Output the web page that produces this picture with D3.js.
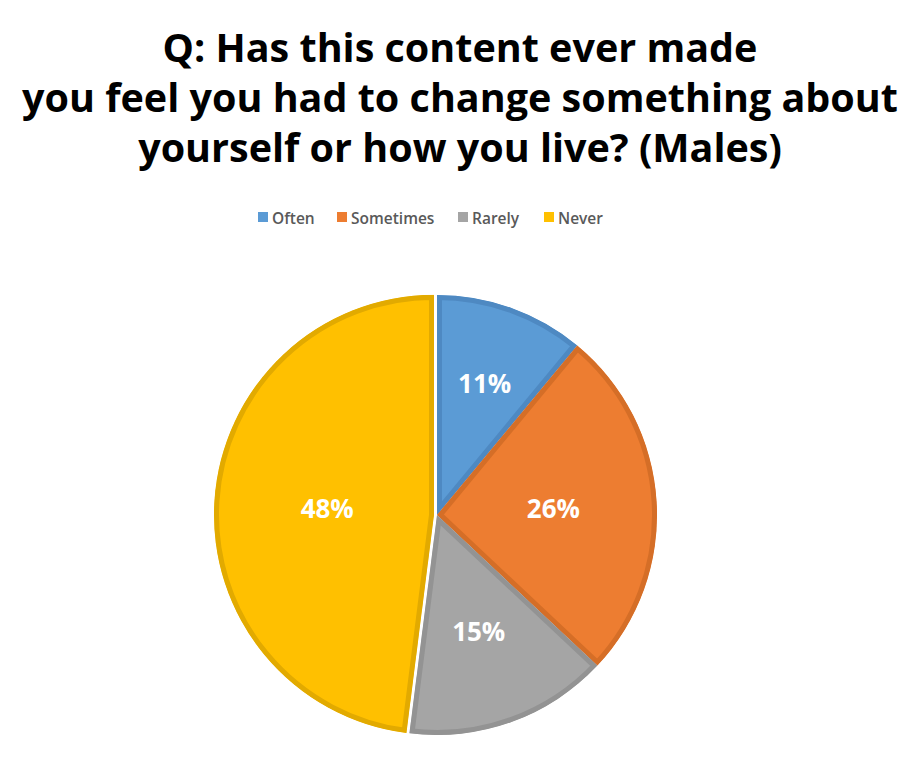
<!DOCTYPE html>
<html><head><meta charset="utf-8">
<script src="https://cdn.jsdelivr.net/npm/d3@7"></script>
<style>body{margin:0;background:#fff}</style>
</head><body>
<svg id="c" width="920" height="784"></svg>
<script>
const titleLines = ["Q: Has this content ever made", "you feel you had to change something about", "yourself or how you live? (Males)"];
const categories = ["Often", "Sometimes", "Rarely", "Never"];
const values = [11, 26, 15, 48];
const labels = ["11%", "26%", "15%", "48%"];
const fills = ["#5B9BD5", "#ED7D31", "#A5A5A5", "#FFC000"];
const strokes = ["#4E89C2", "#D56E27", "#939393", "#E2AA00"];
const explode = [0, 0, 0, 3];
const labelRadius = [0.64, 0.53, 0.56, 0.5];

const svg = d3.select("#c");
const font = "'Open Sans', 'Liberation Sans', sans-serif";

// title
const tg = svg.append("g");
const tys = [62, 112, 162];
const tt = tg.selectAll("text").data(titleLines).join("text")
  .attr("x", 460).attr("y", (d,i)=>tys[i])
  .attr("text-anchor", "middle").attr("font-family", font).attr("font-weight", 700)
  .attr("font-size", 36).attr("fill", "#000").text(d=>d);
const w = tt.nodes()[1].getComputedTextLength();
tt.attr("font-size", 36 * 876 / w);

// legend
const legX = [258, 337, 458, 544];
const lg = svg.append("g");
categories.forEach((c,i)=>{
  lg.append("rect").attr("x", legX[i]).attr("y", 212).attr("width", 10).attr("height", 10).attr("fill", fills[i]);
  lg.append("text").attr("x", legX[i]+14).attr("y", 223.5).attr("font-family", font).attr("font-weight", 600)
    .attr("font-size", 15.5).attr("fill", "#595959").text(c);
});

// pie
const cx = 437, cy = 515, r = 220;
const pie = d3.pie().sort(null).value(d=>d)(values);
const arc = d3.arc().innerRadius(0).outerRadius(r);
const g = svg.append("g").attr("transform", `translate(${cx},${cy})`);
const defs = svg.append("defs");
pie.forEach((p,i)=>{
  const mid = (p.startAngle + p.endAngle)/2;
  const ox = Math.sin(mid)*explode[i], oy = -Math.cos(mid)*explode[i];
  defs.append("clipPath").attr("id", "cl"+i).append("path").attr("d", arc(p));
  const sg = g.append("g").attr("transform", `translate(${ox},${oy})`);
  sg.append("path").attr("d", arc(p)).attr("fill", fills[i])
    .attr("stroke", strokes[i]).attr("stroke-width", 10).attr("stroke-linejoin", "miter")
    .attr("clip-path", `url(#cl${i})`);
});
const lblPos = pie.map((p,i)=>d3.arc().innerRadius(r*labelRadius[i]).outerRadius(r*labelRadius[i]).centroid(p));
g.selectAll("text.lbl").data(pie).join("text").attr("class","lbl")
  .attr("x", (d,i)=>lblPos[i][0]).attr("y", (d,i)=>lblPos[i][1])
  .attr("text-anchor","middle").attr("dominant-baseline","central")
  .attr("font-family", font).attr("font-weight", 700).attr("font-size", 26).attr("fill", "#fff")
  .text((d,i)=>labels[i]);
</script>
</body></html>
